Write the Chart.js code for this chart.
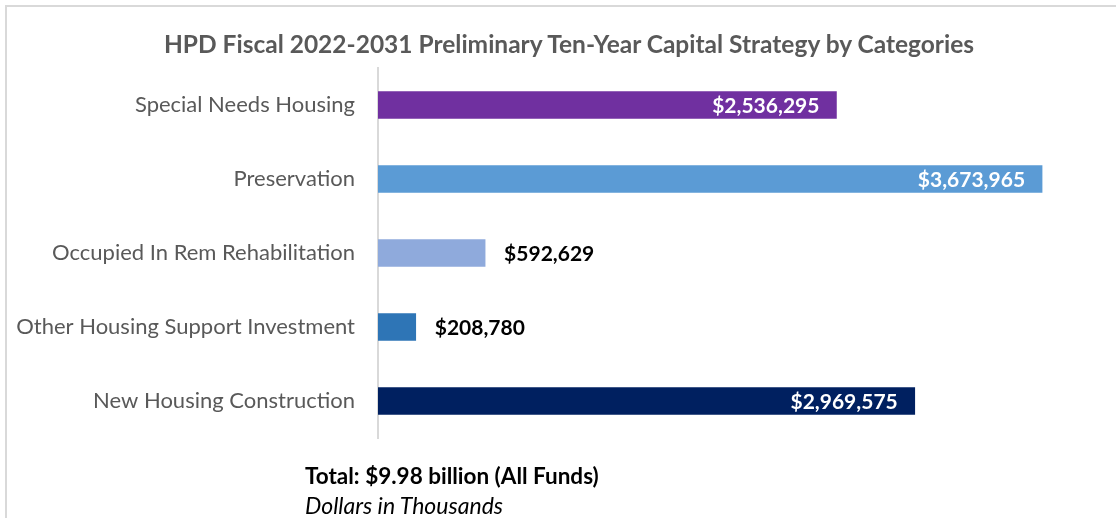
<!DOCTYPE html>
<html>
<head>
<meta charset="utf-8">
<script src="https://cdn.jsdelivr.net/npm/chart.js@4/dist/chart.umd.min.js"></script>
<style>
  html, body { margin: 0; padding: 0; background: #fff; }
  #wrap { position: relative; width: 1116px; height: 518px; overflow: hidden; }
  #frame { position: absolute; left: 5px; top: 5px; width: 1200px; height: 600px; border: 2px solid #d9d9d9; box-sizing: border-box; }
  #c { position: absolute; left: 0; top: 0; }
  .txt { position: absolute; font-family: Lato, "Open Sans", sans-serif; white-space: nowrap; line-height: 1; }
  #title { left: 0; width: 1138px; text-align: center; top: 32px; font-size: 24.5px; font-weight: bold; color: #595959; }
  #total { left: 305px; top: 465px; font-size: 22.5px; font-weight: bold; color: #000; }
  #units { left: 305px; top: 494px; font-size: 23px; font-style: italic; color: #000; }
</style>
</head>
<body>
<div id="wrap">
  <div id="frame"></div>
  <canvas id="c" width="1116" height="518"></canvas>
  <div class="txt" id="title">HPD Fiscal 2022-2031 Preliminary Ten-Year Capital Strategy by Categories</div>
  <div class="txt" id="total">Total: $9.98 billion (All Funds)</div>
  <div class="txt" id="units">Dollars in Thousands</div>
</div>
<script>
const categories = [
  "Special Needs Housing",
  "Preservation",
  "Occupied In Rem Rehabilitation",
  "Other Housing Support Investment",
  "New Housing Construction"
];
const values = [2536295, 3673965, 592629, 208780, 2969575];
const barColors = ["#7030A0", "#5B9BD5", "#8FAADC", "#2E75B6", "#002060"];
const labelInside = [true, true, false, false, true];

const fmt = v => "$" + v.toLocaleString("en-US");

const labelPlugin = {
  id: "valLabels",
  afterDatasetsDraw(chart) {
    const ctx = chart.ctx;
    const meta = chart.getDatasetMeta(0);
    ctx.save();
    ctx.font = "bold 21px Lato, 'Open Sans', sans-serif";
    ctx.textBaseline = "middle";
    meta.data.forEach((bar, i) => {
      const txt = fmt(values[i]);
      if (labelInside[i]) {
        ctx.fillStyle = "#ffffff";
        ctx.textAlign = "right";
        ctx.fillText(txt, bar.x - 17, bar.y + 1);
      } else {
        ctx.fillStyle = "#000000";
        ctx.textAlign = "left";
        ctx.fillText(txt, bar.x + 19, bar.y + 1);
      }
    });
    ctx.restore();
  }
};

new Chart(document.getElementById("c"), {
  type: "bar",
  data: {
    labels: categories,
    datasets: [{
      data: values,
      backgroundColor: barColors,
      borderWidth: 0,
      barThickness: 27
    }]
  },
  options: {
    indexAxis: "y",
    responsive: false,
    animation: false,
    devicePixelRatio: 1,
    layout: { padding: { left: 0, right: 15, top: 68, bottom: 80 } },
    plugins: { legend: { display: false }, tooltip: { enabled: false }, title: { display: false } },
    scales: {
      x: { display: false, min: 0, max: 4000000 },
      y: {
        afterFit(scale) { scale.width = 378; },
        grid: { display: false, drawTicks: false },
        border: { display: true, color: "#d9d9d9", width: 2 },
        ticks: {
          padding: 23,
          color: "#595959",
          font: { family: "Lato, 'Open Sans', sans-serif", size: 22 }
        }
      }
    }
  },
  plugins: [labelPlugin]
});
</script>
</body>
</html>
